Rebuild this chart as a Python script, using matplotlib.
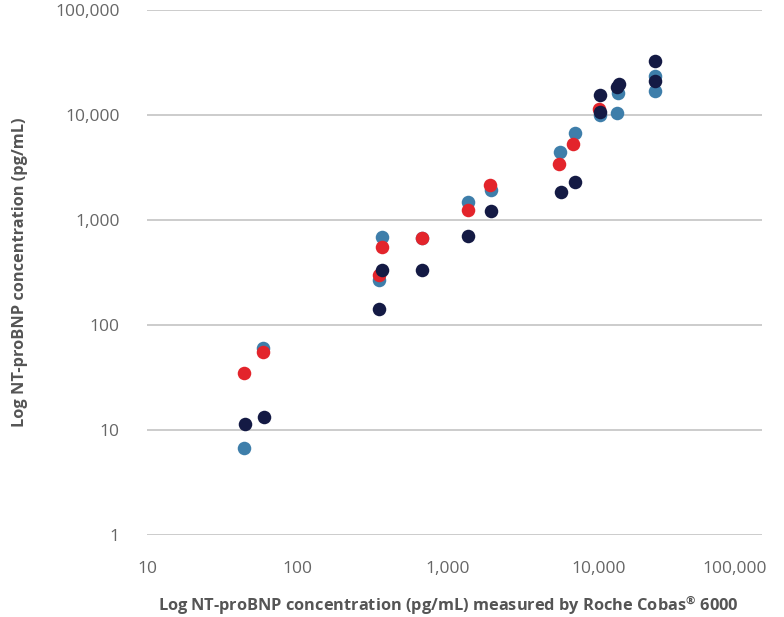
import matplotlib.pyplot as plt
import matplotlib.transforms as mtransforms
from matplotlib.ticker import FixedLocator, NullLocator

# values (pg/mL)
blue_x = [44, 59, 346, 364, 671, 1360, 1920, 5540, 6930, 10200, 13200, 13450, 23900, 23900]
blue_y = [6.7, 60.8, 268, 693, 678, 1494, 1930, 4440, 6780, 9930, 10380, 16100, 23500, 17000]

red_x = [44, 59, 346, 364, 668, 1360, 1900, 5480, 6730, 10030]
red_y = [34.7, 55.7, 297, 557, 678, 1245, 2150, 3415, 5290, 11480]

navy_x = [44.5, 60, 346, 364, 673, 1364, 1920, 5650, 6950, 10200, 10200, 13760, 13280, 23900, 23900]
navy_y = [11.5, 13.2, 143, 334, 334, 704, 1220, 1860, 2317, 15400, 10680, 19700, 18600, 32500, 21200]

ticks = [1, 10, 100, 1000, 10000, 100000]
tick_labels = ["1", "10", "100", "1,000", "10,000", "100,000"]

plt.rcParams['font.family'] = ['Open Sans', 'DejaVu Sans']

fig = plt.figure(figsize=(7.84, 6.17), dpi=100)
ax = fig.add_axes([147/784, 1-535/617, 615/784, 525/617])

ax.scatter(blue_x, blue_y, s=95, color="#3e7eaa", linewidths=0, zorder=3)
ax.scatter(red_x, red_y, s=95, color="#e3242b", linewidths=0, zorder=4)
ax.scatter(navy_x, navy_y, s=95, color="#141a44", linewidths=0, zorder=5)

ax.set_xscale("log")
ax.set_yscale("log")
ax.set_xlim(10, 10**(5 + 13/150))
ax.set_ylim(1, 100000)

ax.xaxis.set_major_locator(FixedLocator(ticks[1:]))
ax.yaxis.set_major_locator(FixedLocator(ticks))
ax.xaxis.set_minor_locator(NullLocator())
ax.yaxis.set_minor_locator(NullLocator())
ax.set_xticklabels(tick_labels[1:])
ax.set_yticklabels(tick_labels)

ax.tick_params(axis="both", length=0, labelsize=12.5, labelcolor="#666666")
ax.tick_params(axis="x", pad=19)
ax.tick_params(axis="y", pad=19.5)

for sp in ax.spines.values():
    sp.set_visible(False)
ax.grid(axis="y", color="#c8c8c8", linewidth=1.3)
ax.set_axisbelow(True)

# last x label sits a bit left, as in the original
last = ax.get_xticklabels()[-1]
last.set_transform(last.get_transform() + mtransforms.ScaledTranslation(-14/100, 0, fig.dpi_scale_trans))

ax.set_xlabel("Log NT-proBNP concentration (pg/mL) measured by Roche Cobas$^{\\mathregular{\u00ae}}$ 6000",
              fontsize=11.8, fontweight="bold", color="#555555")
ax.xaxis.set_label_coords(0.49, -59/525)
ax.set_ylabel("Log NT-proBNP concentration (pg/mL)",
              fontsize=11.8, fontweight="bold", color="#555555")
ax.yaxis.set_label_coords(-119/615, 0.5)

fig.savefig("out.png", dpi=100)
